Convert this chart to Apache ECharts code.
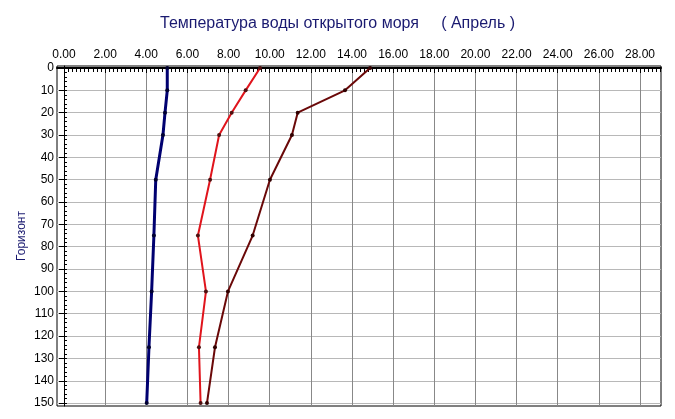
<!DOCTYPE html>
<html>
<head>
<meta charset="utf-8">
<script src="https://cdn.jsdelivr.net/npm/echarts@6/dist/echarts.min.js"></script>
<style>
html,body{margin:0;padding:0;background:#fff;}
#chart{width:675px;height:419px;}
</style>
</head>
<body>
<div id="chart"></div>
<script>
// ---- data ----
const titleText = 'Температура воды открытого моря     ( Апрель )';
const yAxisName = 'Горизонт';
const depths = [0, 10, 20, 30, 50, 75, 100, 125, 150];
const tempBlue = [5.02, 5.02, 4.91, 4.81, 4.46, 4.37, 4.26, 4.13, 4.02];
const tempRed = [9.53, 8.83, 8.15, 7.54, 7.10, 6.51, 6.90, 6.56, 6.64];
const tempDark = [14.88, 13.66, 11.36, 11.08, 10.01, 9.17, 7.97, 7.34, 6.95];
const xTickValues = [0, 2, 4, 6, 8, 10, 12, 14, 16, 18, 20, 22, 24, 26, 28];
const yTickValues = [0, 10, 20, 30, 40, 50, 60, 70, 80, 90, 100, 110, 120, 130, 140, 150];

const xMinor = [];
for (let i = 0; i <= 145; i++) xMinor.push(Math.round(i * 2) / 10);
const yMinor = [];
for (let i = 0; i <= 75; i++) yMinor.push(i * 2);

function pairs(xs) { return xs.map((v, i) => [v, depths[i]]); }

const X_MIN = -0.34, X_MAX = 29.02;
const Y_MIN = -0.9, Y_MAX = 151.3;

const chart = echarts.init(document.getElementById('chart'), null, {renderer: 'canvas'});
chart.setOption({
  animation: false,
  backgroundColor: '#fff',
  title: {
    text: titleText,
    left: 'center',
    top: 11,
    textStyle: {fontFamily: 'Arial', fontSize: 16, fontWeight: 'normal', color: '#1a1a70'}
  },
  grid: {
    left: 57, top: 66, width: 604, height: 340,
    show: true, borderColor: '#000', borderWidth: 1, backgroundColor: '#fff'
  },
  xAxis: [
    {
      type: 'value', position: 'top', min: X_MIN, max: X_MAX,
      axisLine: {show: true, lineStyle: {color: '#000', width: 2}},
      axisTick: {show: true, inside: true, length: 5, customValues: xTickValues, lineStyle: {color: '#000'}},
      axisLabel: {customValues: xTickValues, formatter: v => v.toFixed(2), color: '#000', fontFamily: 'Arial', fontSize: 12, margin: 5},
      splitLine: {show: true, lineStyle: {color: '#888', width: 1}}
    },
    {
      type: 'value', position: 'top', min: X_MIN, max: X_MAX,
      axisLine: {show: false},
      axisTick: {show: true, inside: true, length: 4, customValues: xMinor, lineStyle: {color: '#000'}},
      axisLabel: {show: false},
      splitLine: {show: false}
    }
  ],
  yAxis: [
    {
      type: 'value', inverse: true, position: 'left', min: Y_MIN, max: Y_MAX,
      name: yAxisName, nameLocation: 'middle', nameRotate: 90, nameGap: 29, nameMoveOverlap: false,
      nameTextStyle: {fontFamily: 'Arial', fontSize: 12, color: '#1a1a70'},
      axisLine: {show: true, lineStyle: {color: '#000', width: 1}},
      axisTick: {show: true, length: 5, customValues: yTickValues, lineStyle: {color: '#000'}},
      axisLabel: {customValues: yTickValues, color: '#000', fontFamily: 'Arial', fontSize: 12, margin: 3},
      splitLine: {show: true, lineStyle: {color: '#b8b8b8', width: 1}}
    },
    {
      type: 'value', inverse: true, position: 'left', min: Y_MIN, max: Y_MAX,
      axisLine: {show: false},
      axisTick: {show: true, inside: true, length: 3, customValues: yMinor, lineStyle: {color: '#000'}},
      axisLabel: {show: false},
      splitLine: {show: false}
    }
  ],
  series: [
    {
      type: 'line', xAxisIndex: 0, yAxisIndex: 0, data: pairs(tempBlue),
      symbol: 'circle', symbolSize: 4,
      lineStyle: {color: '#000070', width: 3},
      itemStyle: {color: '#000030'}
    },
    {
      type: 'line', xAxisIndex: 0, yAxisIndex: 0, data: pairs(tempRed),
      symbol: 'circle', symbolSize: 4,
      lineStyle: {color: '#e0141c', width: 2},
      itemStyle: {color: '#501010'}
    },
    {
      type: 'line', xAxisIndex: 0, yAxisIndex: 0, data: pairs(tempDark),
      symbol: 'circle', symbolSize: 4,
      lineStyle: {color: '#6a0808', width: 2},
      itemStyle: {color: '#300000'}
    }
  ]
});
</script>
</body>
</html>
